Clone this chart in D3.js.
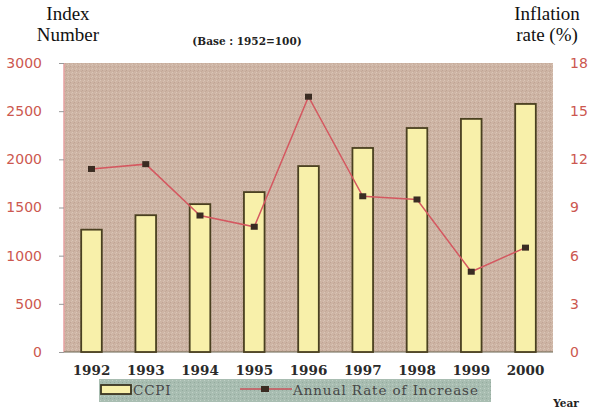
<!DOCTYPE html>
<html>
<head>
<meta charset="utf-8">
<script src="https://cdn.jsdelivr.net/npm/d3@7"></script>
<style>
  html, body { margin: 0; padding: 0; background: #ffffff; }
  svg { display: block; }
</style>
</head>
<body>
<svg id="chart" width="589" height="411"></svg>
<script>
const years = ["1992","1993","1994","1995","1996","1997","1998","1999","2000"];
const ccpi = [1270, 1420, 1535, 1660, 1930, 2118, 2325, 2420, 2575];
const inflation = [11.4, 11.7, 8.5, 7.8, 15.9, 9.7, 9.5, 5.0, 6.5];
const leftTicks = [0, 500, 1000, 1500, 2000, 2500, 3000];
const rightTicks = [0, 3, 6, 9, 12, 15, 18];

const svg = d3.select("#chart");
const M = { left: 64, right: 553, top: 63, bottom: 352 };

const defs = svg.append("defs");
const pat = defs.append("pattern").attr("id", "tex").attr("patternUnits", "userSpaceOnUse")
  .attr("width", 4).attr("height", 4);
pat.append("rect").attr("width", 4).attr("height", 4).attr("fill", "#cdb4a4");
pat.append("rect").attr("x", 0).attr("y", 0).attr("width", 1).attr("height", 1).attr("fill", "#dac6b8");
pat.append("rect").attr("x", 2).attr("y", 2).attr("width", 1).attr("height", 1).attr("fill", "#bfa394");
pat.append("rect").attr("x", 3).attr("y", 1).attr("width", 1).attr("height", 1).attr("fill", "#d6c0b1");
pat.append("rect").attr("x", 1).attr("y", 3).attr("width", 1).attr("height", 1).attr("fill", "#c4a999");

const lpat = defs.append("pattern").attr("id", "ltex").attr("patternUnits", "userSpaceOnUse")
  .attr("width", 4).attr("height", 4);
lpat.append("rect").attr("width", 4).attr("height", 4).attr("fill", "#a8bdb1");
lpat.append("rect").attr("x", 0).attr("y", 0).attr("width", 1).attr("height", 1).attr("fill", "#c0d0c6");
lpat.append("rect").attr("x", 2).attr("y", 2).attr("width", 1).attr("height", 1).attr("fill", "#95aa9e");

const x = d3.scaleBand().domain(years).range([M.left + 2, M.right - 2]).paddingInner(0.62).paddingOuter(0.28);
const yL = d3.scaleLinear().domain([0, 3000]).range([M.bottom, M.top]);
const yR = d3.scaleLinear().domain([0, 18]).range([M.bottom, M.top]);

// plot background
svg.append("rect").attr("x", M.left).attr("y", M.top)
  .attr("width", M.right - M.left).attr("height", M.bottom - M.top)
  .attr("fill", "url(#tex)");
svg.append("line").attr("x1", M.left).attr("x2", M.left).attr("y1", M.top).attr("y2", M.bottom)
  .attr("stroke", "#e6a0a0").attr("stroke-width", 1.5);

// left axis
const axL = svg.append("g").attr("transform", `translate(${M.left},0)`)
  .call(d3.axisLeft(yL).tickValues(leftTicks).tickSize(5).tickPadding(17).tickFormat(d3.format("d")));
axL.select(".domain").remove();
axL.selectAll(".tick line").attr("stroke", "#999");
axL.selectAll("text").attr("fill", "#cc5850").style("font-family", "'DejaVu Sans', Verdana, sans-serif")
  .style("font-size", "14px");

// right axis
const axR = svg.append("g").attr("transform", `translate(${M.right},0)`)
  .call(d3.axisRight(yR).tickValues(rightTicks).tickSize(0).tickPadding(17).tickFormat(d3.format("d")));
axR.select(".domain").remove();
axR.selectAll("text").attr("fill", "#cc5850").style("font-family", "'DejaVu Sans', Verdana, sans-serif")
  .style("font-size", "14px");

// baseline
svg.append("line").attr("x1", M.left).attr("x2", M.right).attr("y1", M.bottom).attr("y2", M.bottom)
  .attr("stroke", "#6b6450").attr("stroke-width", 1.2);

// bars
svg.selectAll("rect.bar").data(ccpi).enter().append("rect").attr("class", "bar")
  .attr("x", (d, i) => x(years[i]))
  .attr("y", d => yL(d))
  .attr("width", x.bandwidth())
  .attr("height", d => yL(0) - yL(d))
  .attr("fill", "#f8f0aa").attr("stroke", "#4a4020").attr("stroke-width", 1.8);

// line
const line = d3.line().x((d, i) => x(years[i]) + x.bandwidth() / 2).y(d => yR(d));
svg.append("path").datum(inflation).attr("d", line)
  .attr("fill", "none").attr("stroke", "#d45860").attr("stroke-width", 1.5);
svg.selectAll("rect.mk").data(inflation).enter().append("rect").attr("class", "mk")
  .attr("x", (d, i) => x(years[i]) + x.bandwidth() / 2 - 3.5)
  .attr("y", d => yR(d) - 3)
  .attr("width", 7).attr("height", 6).attr("fill", "#3a2c22");

const serif = "'Liberation Serif', 'Times New Roman', serif";
const wserif = "'DejaVu Serif', serif";

// x labels
svg.selectAll("text.yr").data(years).enter().append("text").attr("class", "yr")
  .attr("x", d => x(d) + x.bandwidth() / 2).attr("y", 375)
  .attr("text-anchor", "middle")
  .style("font-family", wserif).style("font-size", "13.5px").style("font-weight", "bold")
  .attr("fill", "#2a2a2a").text(d => d);

// titles
svg.append("text").attr("x", 68).attr("y", 20).attr("text-anchor", "middle")
  .style("font-family", serif).style("font-size", "19px").attr("fill", "#111").text("Index");
svg.append("text").attr("x", 68).attr("y", 41).attr("text-anchor", "middle")
  .style("font-family", serif).style("font-size", "19px").attr("fill", "#111").text("Number");
svg.append("text").attr("x", 547).attr("y", 20).attr("text-anchor", "middle")
  .style("font-family", serif).style("font-size", "19px").attr("fill", "#111").text("Inflation");
svg.append("text").attr("x", 547).attr("y", 41).attr("text-anchor", "middle")
  .style("font-family", serif).style("font-size", "19px").attr("fill", "#111").text("rate (%)");
svg.append("text").attr("x", 247).attr("y", 45).attr("text-anchor", "middle")
  .style("font-family", wserif).style("font-size", "10.5px").style("font-weight", "bold")
  .attr("fill", "#222").text("(Base : 1952=100)");
svg.append("text").attr("x", 566).attr("y", 407).attr("text-anchor", "middle")
  .style("font-family", wserif).style("font-size", "10.5px").style("font-weight", "bold")
  .attr("fill", "#222").text("Year");

// legend
const lg = svg.append("g");
lg.append("rect").attr("x", 99).attr("y", 379).attr("width", 392).attr("height", 23).attr("fill", "url(#ltex)");
lg.append("rect").attr("x", 101).attr("y", 385).attr("width", 30).attr("height", 9)
  .attr("fill", "#f8f0aa").attr("stroke", "#3a3420").attr("stroke-width", 1.8);
lg.append("text").attr("x", 133).attr("y", 395)
  .style("font-family", wserif).style("font-size", "13.5px").style("letter-spacing", "0.8px")
  .attr("fill", "#474747").text("CCPI");
lg.append("line").attr("x1", 240).attr("x2", 292).attr("y1", 389).attr("y2", 389)
  .attr("stroke", "#c8505a").attr("stroke-width", 1.4);
lg.append("rect").attr("x", 261).attr("y", 386).attr("width", 8).attr("height", 6).attr("fill", "#3a2c22");
lg.append("text").attr("x", 293).attr("y", 395)
  .style("font-family", wserif).style("font-size", "13.5px").style("letter-spacing", "0.9px")
  .attr("fill", "#474747").text("Annual Rate of Increase");
</script>
</body>
</html>
